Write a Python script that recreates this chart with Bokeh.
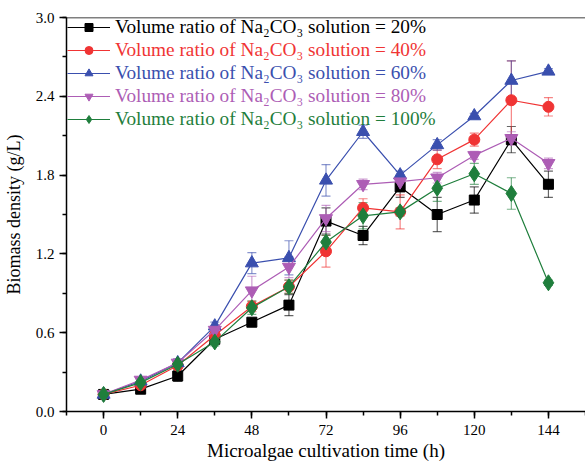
from bokeh.plotting import figure
from bokeh.models import (ColumnDataSource, Whisker, TeeHead, Legend, LegendItem,
                          SingleIntervalTicker, PrintfTickFormatter, Span)
from bokeh.embed import file_html
from bokeh.resources import INLINE

time_h = [0, 12, 24, 36, 48, 60, 72, 84, 96, 108, 120, 132, 144]

labels = ["Volume ratio of Na\u2082CO\u2083 solution = 20%",
          "Volume ratio of Na\u2082CO\u2083 solution = 40%",
          "Volume ratio of Na\u2082CO\u2083 solution = 60%",
          "Volume ratio of Na\u2082CO\u2083 solution = 80%",
          "Volume ratio of Na\u2082CO\u2083 solution = 100%"]

r20 = [0.13, 0.17, 0.27, 0.55, 0.68, 0.81, 1.45, 1.34, 1.71, 1.50, 1.61, 2.07, 1.73]
r40 = [0.13, 0.20, 0.35, 0.58, 0.80, 0.95, 1.22, 1.55, 1.52, 1.92, 2.07, 2.37, 2.32]
r60 = [0.13, 0.23, 0.37, 0.65, 1.13, 1.17, 1.76, 2.13, 1.80, 2.03, 2.25, 2.52, 2.59]
r80 = [0.13, 0.24, 0.37, 0.62, 0.92, 1.10, 1.47, 1.73, 1.75, 1.78, 1.95, 2.08, 1.89]
r100 = [0.13, 0.22, 0.36, 0.53, 0.79, 0.95, 1.29, 1.49, 1.52, 1.70, 1.81, 1.66, 0.98]

e20 = [0.02, 0.02, 0.04, 0.03, 0.03, 0.08, 0.10, 0.07, 0.08, 0.13, 0.10, 0.10, 0.10]
e40 = [0.02, 0.02, 0.03, 0.03, 0.04, 0.05, 0.12, 0.07, 0.13, 0.07, 0.05, 0.30, 0.07]
e60 = [0.02, 0.02, 0.03, 0.03, 0.08, 0.13, 0.12, 0.05, 0.03, 0.04, 0.02, 0.15, 0.02]
e80 = [0.02, 0.02, 0.03, 0.03, 0.11, 0.08, 0.10, 0.04, 0.05, 0.04, 0.03, 0.05, 0.04]
e100 = [0.02, 0.02, 0.03, 0.03, 0.05, 0.05, 0.05, 0.10, 0.03, 0.10, 0.08, 0.12, 0.02]

colors = ["#000000", "#f03434", "#3a4fae", "#ad5db5", "#1f7e3c"]
markers = ["square", "circle", "triangle", "inverted_triangle", "diamond"]
sizes = [10, 11, 13, 13, 16]
series = [r20, r40, r60, r80, r100]
errors = [e20, e40, e60, e80, e100]

FONT = "Liberation Serif"

p = figure(width=585, height=463, x_range=(-12, 156), y_range=(0, 3.0),
           output_backend="svg", toolbar_location=None,
           min_border_left=64, min_border_right=0, min_border_top=17, min_border_bottom=50)
p.outline_line_color = None
p.xgrid.visible = False
p.ygrid.visible = False
p.background_fill_color = "white"
p.border_fill_color = "white"

p.xaxis.ticker = SingleIntervalTicker(interval=24, num_minor_ticks=2)
p.yaxis.ticker = SingleIntervalTicker(interval=0.6, num_minor_ticks=2)
p.yaxis.formatter = PrintfTickFormatter(format="%.1f")
for ax in (p.xaxis, p.yaxis):
    ax.axis_line_width = 1.5
    ax.axis_line_color = "black"
    ax.major_tick_line_color = "black"
    ax.minor_tick_line_color = "black"
    ax.major_tick_line_width = 1.5
    ax.minor_tick_line_width = 1.5
    ax.major_tick_out = 7
    ax.major_tick_in = 0
    ax.minor_tick_out = 4
    ax.minor_tick_in = 0
    ax.major_label_text_font = FONT
    ax.major_label_text_font_size = "15px"
    ax.major_label_text_color = "black"
    ax.axis_label_text_font = FONT
    ax.axis_label_text_font_style = "normal"
    ax.axis_label_text_color = "black"
p.xaxis.axis_label_text_font_size = "19px"
p.yaxis.axis_label_text_font_size = "18px"
p.xaxis.axis_label = "Microalgae cultivation time (h)"
p.yaxis.axis_label = "Biomass density (g/L)"
p.xaxis.axis_label_standoff = 2
p.yaxis.axis_label_standoff = 9
p.xaxis.major_label_standoff = 6

p.add_layout(Span(location=3.0, dimension="width", line_color="black", line_width=1.5))

renderers = []
for i in range(5):
    src = ColumnDataSource(dict(x=time_h, y=series[i],
                                lo=[a - b for a, b in zip(series[i], errors[i])],
                                hi=[a + b for a, b in zip(series[i], errors[i])]))
    w = Whisker(source=src, base="x", lower="lo", upper="hi",
                line_color=colors[i], line_alpha=0.6, line_width=1.2,
                upper_head=TeeHead(size=9, line_color=colors[i], line_alpha=0.6, line_width=1.2),
                lower_head=TeeHead(size=9, line_color=colors[i], line_alpha=0.6, line_width=1.2))
    p.add_layout(w)
    ln = p.line("x", "y", source=src, line_color=colors[i], line_width=1.2)
    sc = p.scatter("x", "y", source=src, marker=markers[i], size=sizes[i],
                   fill_color=colors[i], line_color=colors[i])
    renderers.append((ln, sc))

for i in range(5):
    leg = Legend(items=[LegendItem(label=labels[i], renderers=list(renderers[i]))],
                 location=(1, 373 - 23 * i), padding=0, margin=0, spacing=0,
                 glyph_width=43, glyph_height=20, label_height=20, label_standoff=5,
                 border_line_color=None, background_fill_alpha=0,
                 label_text_font=FONT, label_text_font_size="19.3px",
                 label_text_font_style="normal",
                 label_text_color=colors[i])
    p.add_layout(leg)

open("out.html", "w").write(file_html(p, INLINE))
